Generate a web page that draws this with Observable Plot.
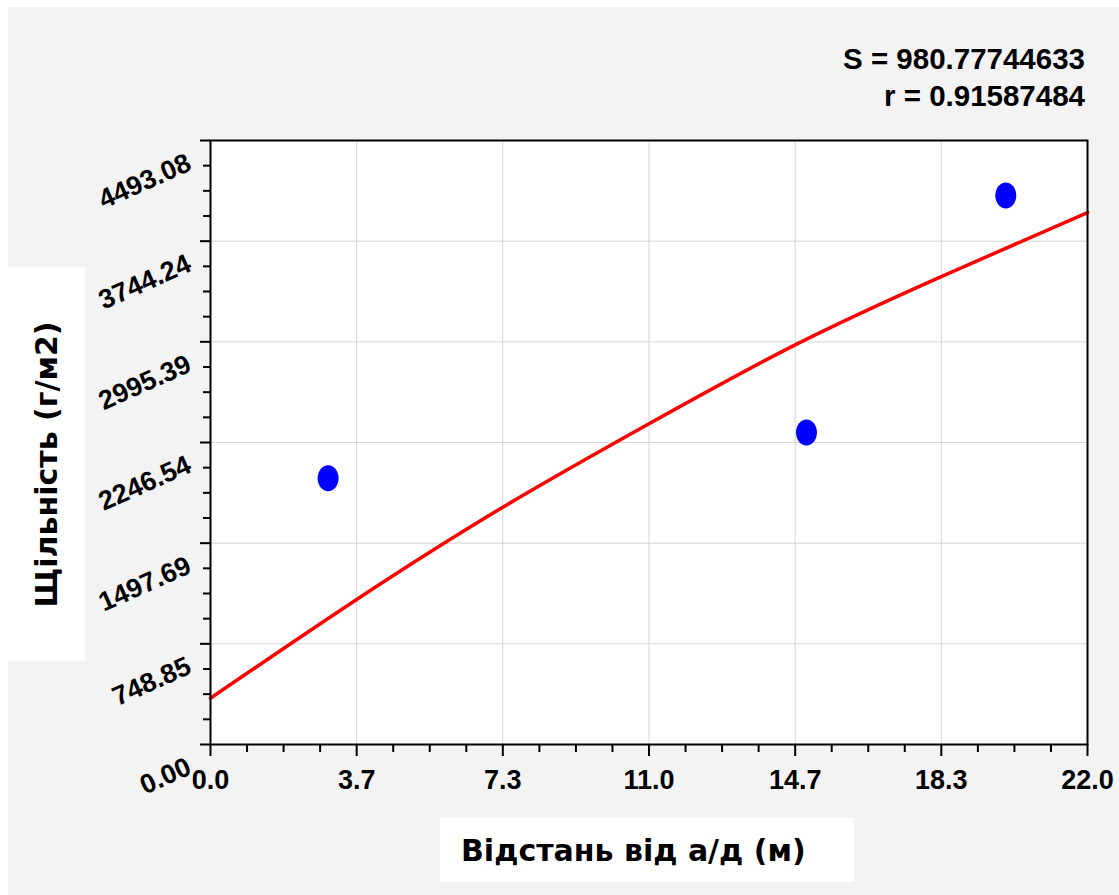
<!DOCTYPE html>
<html>
<head>
<meta charset="utf-8">
<script src="https://cdn.jsdelivr.net/npm/d3@7"></script>
<script src="https://cdn.jsdelivr.net/npm/@observablehq/plot@0.6"></script>
<style>
  html, body { margin: 0; padding: 0; background: #ffffff; }
  #wrap { position: absolute; left: 8px; top: 7px; width: 1111px; height: 888px; background: #f3f3f3; overflow: hidden; }
  #chart { position: absolute; left: 0; top: 0; }
  .box { position: absolute; background: #ffffff; display: flex; align-items: center; }
  #ytitle { left: 0; top: 260px; width: 77px; height: 394px; justify-content: center; }
  #ytitle span { transform: rotate(-90deg); white-space: nowrap; font-family: "DejaVu Sans", sans-serif; font-weight: bold; font-size: 30px; color: #000; }
  #xtitle { left: 432px; top: 811px; width: 414px; height: 64px; justify-content: flex-start; }
  #xtitle span { margin-left: 21px; white-space: nowrap; font-family: "DejaVu Sans", sans-serif; font-weight: bold; font-size: 30px; color: #000; }
  #stats { position: absolute; right: 34px; top: 33px; text-align: right; font-family: "Liberation Sans", Arial, sans-serif; font-weight: bold; font-size: 29.5px; line-height: 37px; color: #000; }
</style>
</head>
<body>
<div id="wrap">
  <div id="chart"></div>
  <div id="stats"><div>S = 980.77744633</div><div>r = 0.91587484</div></div>
  <div class="box" id="ytitle"><span>Щільність (г/м2)</span></div>
  <div class="box" id="xtitle"><span>Відстань від а/д (м)</span></div>
</div>
<script>
// observed points
const pointX = [2.95, 14.95, 19.95];
const pointY = [1981, 2321, 4084];

// fitted curve
const curveX = [0, 3.667, 7.333, 11, 14.667, 18.333, 22];
const curveY = [344, 1079, 1765, 2386, 2973, 3481, 3957];

// axis ticks
const xTicks = [0, 3.667, 7.333, 11, 14.667, 18.333, 22];
const xTickLabels = ["0.0", "3.7", "7.3", "11.0", "14.7", "18.3", "22.0"];
const yTicks = [0, 748.85, 1497.69, 2246.54, 2995.39, 3744.24, 4493.08];
const yTickLabels = ["0.00", "748.85", "1497.69", "2246.54", "2995.39", "3744.24", "4493.08"];

const xMinor = d3.range(25).map(i => i * 22 / 24).filter((d, i) => i % 4 !== 0);
const yMinor = d3.range(25).map(i => i * 4493.08 / 24).filter((d, i) => i % 4 !== 0);

const points = pointX.map((x, i) => ({x, y: pointY[i]}));
const curve = curveX.map((x, i) => ({x, y: curveY[i]}));
const xLab = xTicks.map((v, i) => ({v, t: xTickLabels[i]}));
const yLab = yTicks.map((v, i) => ({v, t: yTickLabels[i]}));

const ellipse = {
  draw(ctx) {
    const rx = 10.5, ry = 13, k = 0.5523;
    ctx.moveTo(rx, 0);
    ctx.bezierCurveTo(rx, ry * k, rx * k, ry, 0, ry);
    ctx.bezierCurveTo(-rx * k, ry, -rx, ry * k, -rx, 0);
    ctx.bezierCurveTo(-rx, -ry * k, -rx * k, -ry, 0, -ry);
    ctx.bezierCurveTo(rx * k, -ry, rx, -ry * k, rx, 0);
    ctx.closePath();
  }
};

const font = "Liberation Sans, Arial, sans-serif";

const chart = Plot.plot({
  width: 1111,
  height: 888,
  marginLeft: 202,
  marginRight: 32,
  marginTop: 133,
  marginBottom: 151,
  style: {background: "transparent", fontFamily: font},
  x: {domain: [0, 22], axis: null},
  y: {domain: [0, 4493.08], axis: null},
  marks: [
    Plot.frame({fill: "white", stroke: "none"}),
    Plot.gridX(xTicks, {stroke: "#d4d4d4", strokeOpacity: 1, strokeWidth: 1}),
    Plot.gridY(yTicks, {stroke: "#d4d4d4", strokeOpacity: 1, strokeWidth: 1}),
    Plot.axisY({ticks: yTicks, tickSize: 10, strokeWidth: 2, stroke: "black", fill: "none", label: null}),
    Plot.axisY({ticks: yMinor, tickSize: 7, strokeWidth: 2, stroke: "black", fill: "none", label: null}),
    Plot.axisX({ticks: xTicks, tickSize: 12, strokeWidth: 2, stroke: "black", fill: "none", label: null}),
    Plot.axisX({ticks: xMinor, tickSize: 8, strokeWidth: 2, stroke: "black", fill: "none", label: null}),
    Plot.text(yLab, {y: "v", text: "t", frameAnchor: "left", textAnchor: "end", rotate: -24, dx: -21, dy: 21, fontSize: 27, fontWeight: "bold", fill: "black", fontFamily: font}),
    Plot.text(xLab, {x: "v", text: "t", frameAnchor: "bottom", dy: 44, fontSize: 27, fontWeight: "bold", fill: "black", fontFamily: font}),
    Plot.line(curve, {x: "x", y: "y", stroke: "#ff0000", strokeWidth: 3.5, curve: "natural"}),
    Plot.dot(points, {x: "x", y: "y", symbol: ellipse, fill: "#0000ff", stroke: "none"}),
    Plot.frame({stroke: "black", strokeWidth: 2})
  ]
});
document.getElementById("chart").appendChild(chart);
</script>
</body>
</html>
